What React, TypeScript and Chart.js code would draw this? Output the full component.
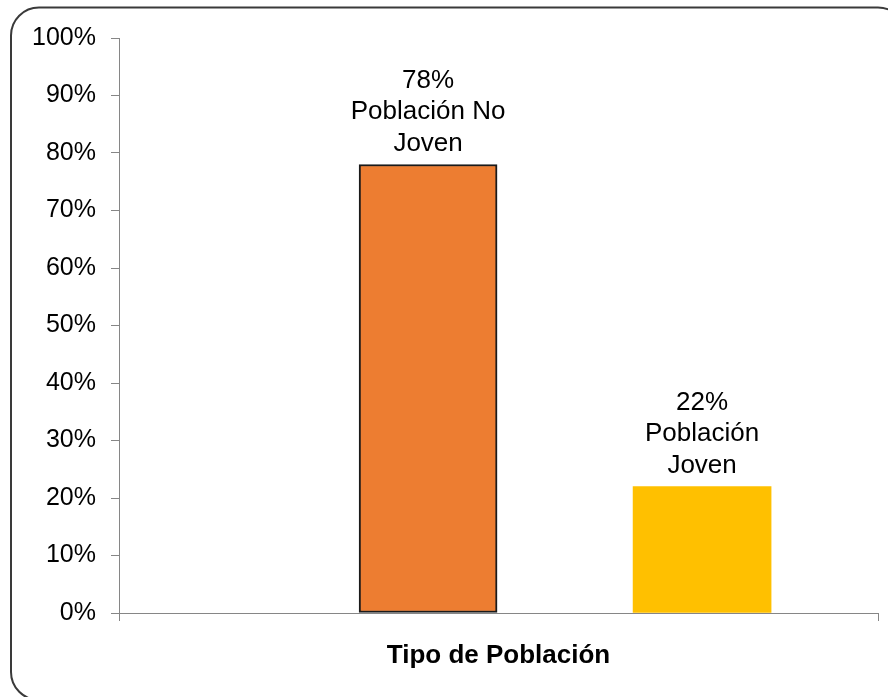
import React, { useEffect, useRef } from "react";
import { Chart, registerables } from "chart.js";

Chart.register(...registerables);

const categories = ["Población No Joven", "Población Joven"];
const values = [78, 22];
const labelLines = [
  ["Población No", "Joven"],
  ["Población", "Joven"],
];
const barColors = ["#ED7D31", "#FFC000"];
const barBorderColors = ["#1a1a1a", "rgba(0,0,0,0)"];
const barBorderWidths = [2, 0];
const yTickValues = [0, 10, 20, 30, 40, 50, 60, 70, 80, 90, 100];
const xAxisTitle = "Tipo de Población";

const FONT = "'Liberation Sans', Arial, sans-serif";

const framePlugin = {
  id: "frame",
  beforeDraw(chart: any) {
    const ctx = chart.ctx;
    ctx.save();
    ctx.fillStyle = "#ffffff";
    ctx.fillRect(0, 0, chart.width, chart.height);
    const x = 11, y = 7.5, w = 906 - 11, h = 700 - 7.5, r = 28;
    ctx.beginPath();
    ctx.moveTo(x + r, y);
    ctx.lineTo(x + w - r, y);
    ctx.arcTo(x + w, y, x + w, y + r, r);
    ctx.lineTo(x + w, y + h - r);
    ctx.arcTo(x + w, y + h, x + w - r, y + h, r);
    ctx.lineTo(x + r, y + h);
    ctx.arcTo(x, y + h, x, y + h - r, r);
    ctx.lineTo(x, y + r);
    ctx.arcTo(x, y, x + r, y, r);
    ctx.closePath();
    ctx.strokeStyle = "#3a3a3a";
    ctx.lineWidth = 2;
    ctx.stroke();
    ctx.restore();
  },
};

const dataLabelPlugin = {
  id: "dataLabels",
  afterDatasetsDraw(chart: any) {
    const ctx = chart.ctx;
    const meta = chart.getDatasetMeta(0);
    ctx.save();
    ctx.font = `26px ${FONT}`;
    ctx.fillStyle = "#000000";
    ctx.textAlign = "center";
    ctx.textBaseline = "alphabetic";
    meta.data.forEach((el: any, i: number) => {
      const lines = [`${values[i]}%`, ...labelLines[i]];
      const lh = 31.5;
      const base = el.y - 14;
      lines.forEach((t, k) => {
        ctx.fillText(t, el.x, base - (lines.length - 1 - k) * lh);
      });
    });
    ctx.restore();
  },
};

export default function App() {
  const ref = useRef<HTMLCanvasElement | null>(null);

  useEffect(() => {
    document.body.style.margin = "0";
    if (!ref.current) return;
    const chart = new Chart(ref.current, {
      type: "bar",
      data: {
        labels: categories,
        datasets: [
          {
            label: xAxisTitle,
            data: values.map((v, i) => ({ x: i, y: v })),
            backgroundColor: barColors,
            borderColor: barBorderColors,
            borderWidth: barBorderWidths,
            borderSkipped: false,
            barThickness: 138,
          },
        ],
      },
      options: {
        animation: false,
        responsive: false,
        events: [],
        layout: { padding: { left: 0, right: 10, top: 38, bottom: 0 } },
        plugins: {
          legend: { display: false },
          tooltip: { enabled: false },
        },
        scales: {
          x: {
            type: "linear",
            offset: false,
            min: -1.128,
            max: 1.642,
            afterBuildTicks: (scale: any) => {
              scale.ticks = [{ value: scale.min }, { value: scale.max }];
            },
            afterFit: (scale: any) => {
              scale.height = 84;
            },
            ticks: { display: false },
            grid: {
              display: true,
              offset: false,
              drawOnChartArea: false,
              drawTicks: true,
              tickLength: 8,
              color: "#868686",
              lineWidth: 1,
            },
            border: { display: true, color: "#868686", width: 1 },
            title: {
              display: true,
              text: xAxisTitle,
              color: "#000000",
              font: { family: FONT, size: 26, weight: "bold" },
              padding: { top: 0, bottom: 26 },
            },
          },
          y: {
            type: "linear",
            min: 0,
            max: 100,
            afterBuildTicks: (scale: any) => {
              scale.ticks = yTickValues.map((v) => ({ value: v }));
            },
            afterFit: (scale: any) => {
              scale.width = 119;
            },
            ticks: {
              color: "#000000",
              font: { family: FONT, size: 25 },
              padding: 15,
              callback: (v: any) => `${v}%`,
            },
            grid: {
              display: true,
              drawOnChartArea: false,
              drawTicks: true,
              tickLength: 8,
              color: "#868686",
              lineWidth: 1,
            },
            border: { display: true, color: "#868686", width: 1 },
          },
        },
      },
      plugins: [framePlugin, dataLabelPlugin],
    });
    return () => chart.destroy();
  }, []);

  return (
    <div style={{ position: "fixed", left: 0, top: 0, width: 888, height: 697 }}>
      <canvas ref={ref} width={888} height={697} style={{ display: "block" }} />
    </div>
  );
}
